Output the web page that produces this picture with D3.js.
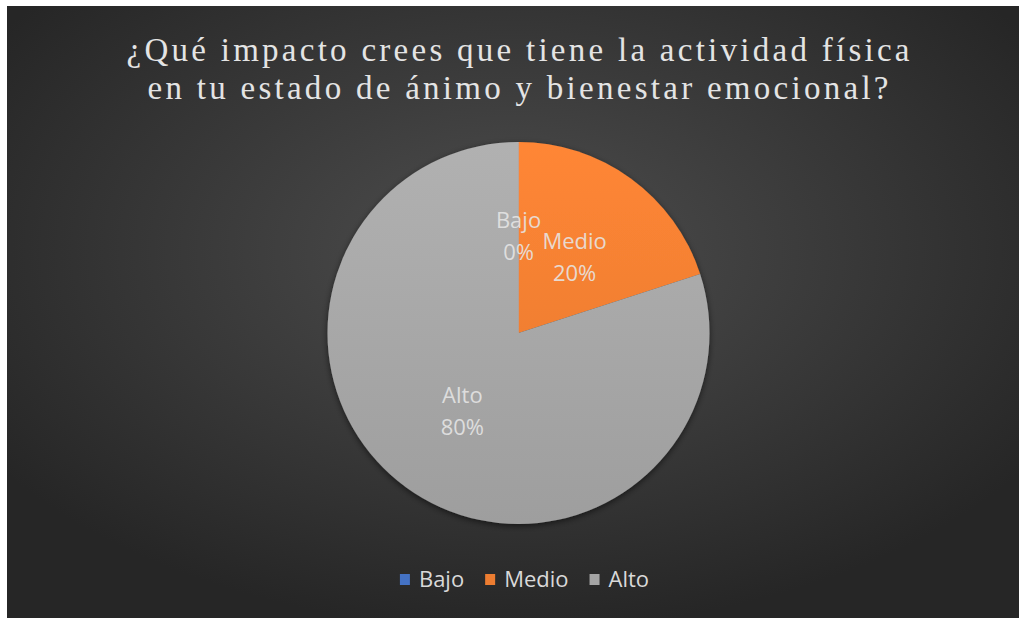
<!DOCTYPE html>
<html>
<head>
<meta charset="utf-8">
<script src="https://cdn.jsdelivr.net/npm/d3@7"></script>
<style>
  html, body { margin: 0; padding: 0; background: #ffffff; }
  svg { display: block; }
</style>
</head>
<body>
<script>
// Survey answers: share of respondents per impact level
const categories = ["Bajo", "Medio", "Alto"];
const values = [0, 20, 80];
const percentLabels = ["0%", "20%", "80%"];
const colors = ["#4472c4", "#ed7d31", "#a5a5a5"];
const titleLines = [
  "¿Qué impacto crees que tiene la actividad física",
  "en tu estado de ánimo y bienestar emocional?"
];

const W = 1019, H = 618;
const svg = d3.select("body").append("svg").attr("width", W).attr("height", H);
const defs = svg.append("defs");

// Dark radial background
const bg = defs.append("radialGradient").attr("id", "bg")
  .attr("cx", "50%").attr("cy", "40%").attr("r", "62%");
bg.append("stop").attr("offset", "0%").attr("stop-color", "#4e4e4e");
bg.append("stop").attr("offset", "100%").attr("stop-color", "#262626");

svg.append("rect").attr("x", 7).attr("y", 6).attr("width", W - 7).attr("height", H - 6)
  .attr("fill", "url(#bg)");

const R = 191;

// Slice gradients (lighter at the top)
colors.forEach((c, i) => {
  const g = defs.append("linearGradient").attr("id", "slice" + i)
    .attr("gradientUnits", "userSpaceOnUse")
    .attr("x1", 0).attr("y1", -R).attr("x2", 0).attr("y2", R);
  g.append("stop").attr("offset", "0%").attr("stop-color", d3.color(c).brighter(0.2));
  g.append("stop").attr("offset", "100%").attr("stop-color", d3.color(c).darker(0.12));
});

const shadow = defs.append("filter").attr("id", "shadow")
  .attr("x", "-20%").attr("y", "-20%").attr("width", "140%").attr("height", "140%");
shadow.append("feDropShadow").attr("dx", 0).attr("dy", 2).attr("stdDeviation", 3)
  .attr("flood-color", "#000").attr("flood-opacity", 0.55);

// Title
const title = svg.append("g");
const titleY = [61, 99];
const titleWidths = [783, 741];
titleLines.forEach((t, i) => {
  title.append("text")
    .attr("x", 518).attr("y", titleY[i])
    .attr("text-anchor", "middle")
    .attr("font-family", "'Liberation Serif', 'DejaVu Serif', serif")
    .attr("font-size", 33)
    .attr("fill", "#e4e4e4")
    .attr("textLength", titleWidths[i])
    .attr("lengthAdjust", "spacing")
    .text(t);
});

// Pie
const cx = 518.5, cy = 333;
const pie = d3.pie().sort(null).value(d => d.value);
const data = categories.map((c, i) => ({ name: c, value: values[i], label: percentLabels[i], idx: i }));
const arcs = pie(data);
const arc = d3.arc().innerRadius(0).outerRadius(R);
const labelArc = d3.arc().innerRadius(R * 0.5).outerRadius(R * 0.5);

const g = svg.append("g").attr("transform", `translate(${cx},${cy})`);
g.append("g").attr("filter", "url(#shadow)")
  .selectAll("path").data(arcs).join("path")
  .attr("d", arc)
  .attr("fill", d => `url(#slice${d.data.idx})`)
  .attr("stroke", d => d.data.value === 0 ? "#9fb4d0" : "none")
  .attr("stroke-opacity", 0.7)
  .attr("stroke-width", 1);

const labelFont = "'Open Sans', 'Noto Sans', sans-serif";
const lbl = g.selectAll("g.lbl").data(arcs).join("g").attr("class", "lbl")
  .attr("transform", d => {
    const [x, y] = labelArc.centroid(d);
    const dy = d.data.value === 0 ? -3 : 0;
    return `translate(${x},${y + dy})`;
  });
lbl.append("text").attr("text-anchor", "middle").attr("y", -7)
  .attr("font-family", labelFont).attr("font-size", 22).attr("fill", "#e6e6e6").attr("fill-opacity", 0.88)
  .text(d => d.data.name);
lbl.append("text").attr("text-anchor", "middle").attr("y", 25)
  .attr("font-family", labelFont).attr("font-size", 22).attr("fill", "#e6e6e6").attr("fill-opacity", 0.88)
  .text(d => d.data.label);

// Legend
const legend = svg.append("g");
const items = legend.selectAll("g").data(data).join("g");
items.append("rect").attr("width", 10).attr("height", 11).attr("y", -13)
  .attr("fill", d => colors[d.idx]);
items.append("text").attr("x", 19).attr("y", 0)
  .attr("font-family", labelFont).attr("font-size", 22).attr("fill", "#d9d9d9")
  .text(d => d.name);
let lx = 0;
items.each(function () {
  const w = this.getBBox().width;
  d3.select(this).attr("transform", `translate(${lx},0)`);
  lx += w + 21;
});
const total = lx - 21;
legend.attr("transform", `translate(${524.5 - total / 2},587)`);
</script>
</body>
</html>
